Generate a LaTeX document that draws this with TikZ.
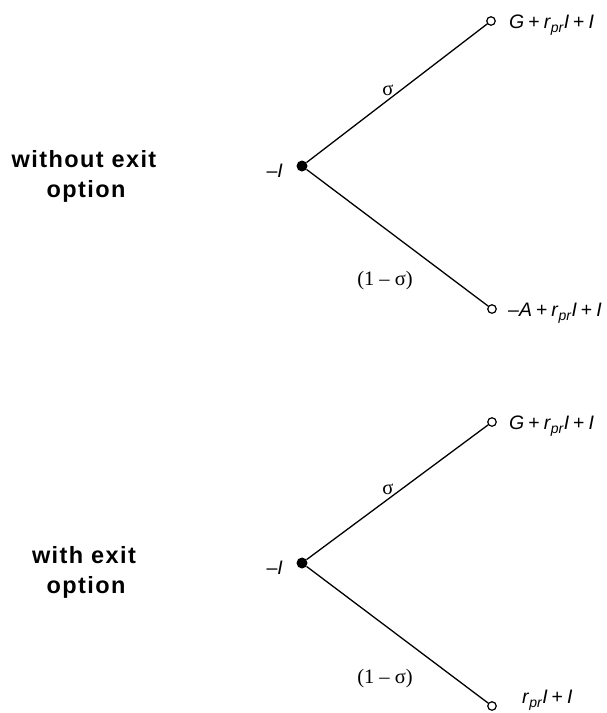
\documentclass[tikz,border=0pt]{standalone}
\usepackage{fontspec}
\setmainfont{Liberation Sans}
\newfontfamily\serifit{Liberation Serif}
\newfontfamily\sidefont[LetterSpace=6]{Liberation Sans Bold}
\newcommand{\pl}{\hspace{4pt}+\hspace{4pt}}
\newcommand{\rpr}{\textit{r}\raisebox{-4.5pt}{\textit{\fontsize{14}{14}\selectfont pr}}}
\begin{document}
\begin{tikzpicture}[x=1pt,y=-1pt,
  open/.style={circle,draw,fill=white,inner sep=0pt,minimum size=8.5pt,line width=1.2pt},
  root/.style={circle,fill=black,inner sep=0pt,minimum size=11pt},
  branch/.style={line width=1.3pt},
  lab/.style={font=\fontsize{19.5}{21}\selectfont,inner sep=0pt},
  slab/.style={font=\serifit\fontsize{20.5}{22}\selectfont,inner sep=0pt},
  side/.style={font=\sidefont\fontsize{23.5}{30}\selectfont,inner sep=0pt,anchor=base}]
\useasboundingbox (0,0) rectangle (607,713);
% top tree
\node[root] (r1) at (302,166) {};
\node[open] (u1) at (491,21) {};
\node[open] (d1) at (492,309) {};
\draw[branch] (r1) -- (u1);
\draw[branch] (r1) -- (d1);
\node[lab,anchor=base east] (m1) at (283,177) {\textendash\textit{I}};
\node[slab] (s1) at (388,90) {σ};
\node[slab] (t1) at (385,281) {(1 \textendash\ σ)};
\node[lab,anchor=base west] (e1) at (509,28) {\textit{G}\pl\rpr\textit{I}\pl\textit{I}};
\node[lab,anchor=base west] (e2) at (508,316) {\textendash\textit{A}\pl\rpr\textit{I}\pl\textit{I}};
\node[side] (w1) at (84,167) {without exit};
\node[side] (o1) at (86,197) {option};
% bottom tree
\node[root] (r2) at (302,563) {};
\node[open] (u2) at (492,422) {};
\node[open] (d2) at (492,706) {};
\draw[branch] (r2) -- (u2);
\draw[branch] (r2) -- (d2);
\node[lab,anchor=base east] (m2) at (283,574) {\textendash\textit{I}};
\node[slab] (s2) at (388,489) {σ};
\node[slab] (t2) at (385,679) {(1 \textendash\ σ)};
\node[lab,anchor=base west] (e3) at (509,429) {\textit{G}\pl\rpr\textit{I}\pl\textit{I}};
\node[lab,anchor=base west] (e4) at (522,703) {\rpr\textit{I}\pl\textit{I}};
\node[side] (w2) at (84,563) {with exit};
\node[side] (o2) at (86,593) {option};
\end{tikzpicture}
\end{document}
